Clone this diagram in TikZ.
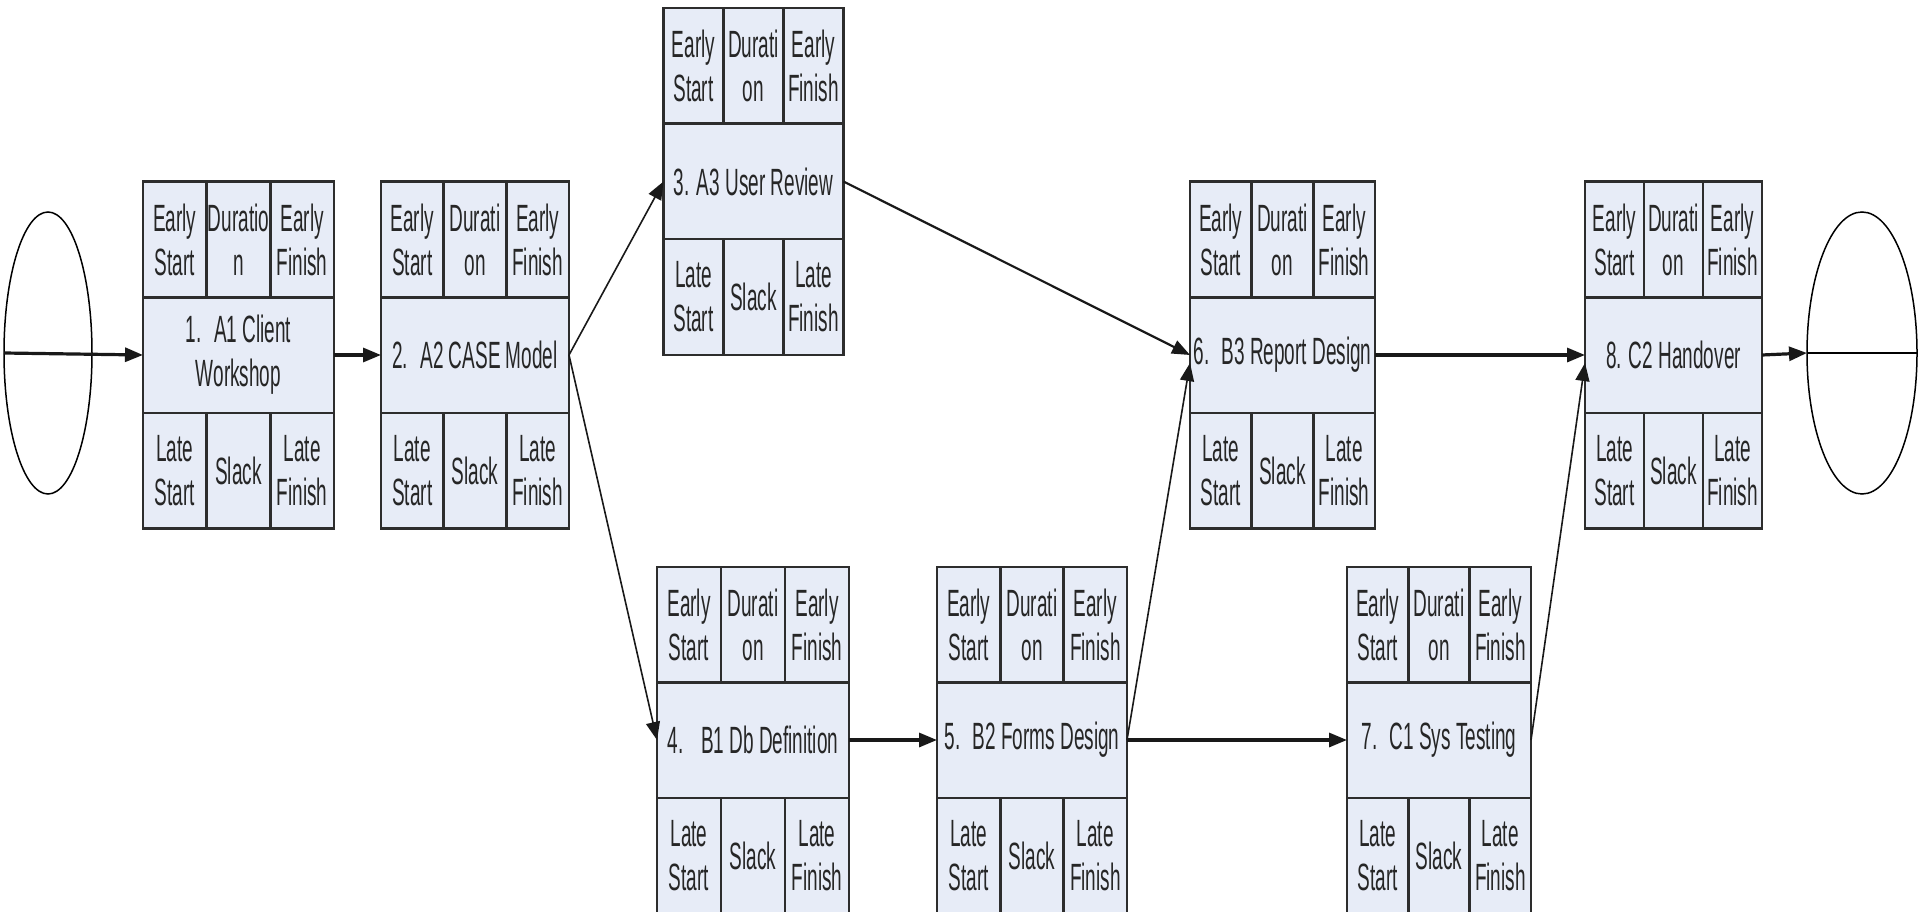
\documentclass[tikz,border=0pt]{standalone}
\usepackage{fontspec}
\usetikzlibrary{arrows.meta,positioning,shapes.geometric,calc}
\newfontfamily\cellfont[FakeStretch=0.50]{Liberation Sans}
\definecolor{cellfill}{RGB}{231,236,247}
\definecolor{cellline}{RGB}{45,45,45}
\tikzset{
  cell/.style={draw=cellline, fill=cellfill, line width=2.5pt, inner sep=0pt, outer sep=0pt,
    minimum height=115.5pt, align=center, text=black!85,
    font=\cellfont\fontsize{38}{44}\selectfont},
  titlecell/.style={cell},
  endpoint/.style={ellipse, draw, line width=1.5pt, inner sep=0pt, outer sep=0pt},
  arr/.style={-{Triangle[length=18pt,width=14pt]}, draw=black!90, line width=1.6pt},
  thickarr/.style={arr, line width=3.2pt}
}
% one activity box: name, centre, width, title, duration text
\newcommand{\actbox}[5]{%
  \node[titlecell, minimum width=#3] (#1) at #2 {#4};
  \node[cell, minimum width=#3/3, anchor=south west] (#1es) at (#1.north west) {Early\\Start};
  \node[cell, minimum width=#3/3, right=0pt of #1es] (#1du) {#5};
  \node[cell, minimum width=#3/3, right=0pt of #1du] (#1ef) {Early\\Finish};
  \node[cell, minimum width=#3/3, anchor=north west] (#1ls) at (#1.south west) {Late\\Start};
  \node[cell, minimum width=#3/3, right=0pt of #1ls] (#1sl) {Slack};
  \node[cell, minimum width=#3/3, right=0pt of #1sl] (#1lf) {Late\\Finish};
}
\begin{document}
\begin{tikzpicture}[x=1pt,y=1pt,yscale=-1,xscale=1]
    \useasboundingbox (0,0) rectangle (1920,912);

    \actbox{a1}{(238.5,355)}{191pt}{1.~ A1 Client\\Workshop}{Duratio\\n}
    \actbox{a2}{(475,355)}{188pt}{2.~ A2 CASE Model}{Durati\\on}
    \actbox{a3}{(753.5,181.5)}{180pt}{3. A3 User Review}{Durati\\on}
    \actbox{a4}{(753,740)}{192pt}{4.~~ B1 Db Definition}{Durati\\on}
    \actbox{a5}{(1032,740)}{190pt}{5.~ B2 Forms Design}{Durati\\on}
    \actbox{a6}{(1282.5,355)}{185pt}{6.~ B3 Report Design}{Durati\\on}
    \actbox{a7}{(1439,740)}{184pt}{7.~ C1 Sys Testing}{Durati\\on}
    \actbox{a8}{(1673.5,355)}{177pt}{8. C2 Handover}{Durati\\on}

    \node[endpoint, minimum width=88pt, minimum height=282pt] (start) at (48,353) {};
    \node[endpoint, minimum width=110pt, minimum height=282pt] (finish) at (1862,353) {};

    \draw[thickarr] (start.west) -- (a1.west);
    \draw[thickarr] (a1.east) -- (a2.west);
    \draw[arr] (a2.east) -- (a3.west);
    \draw[arr] (a2.east) -- (a4.west);
    \draw[arr, line width=2.2pt] (a3.east) -- (a6.west);
    \draw[thickarr] (a4.east) -- (a5.west);
    \draw[arr] (a5.east) -- ($(a6.west)+(0,8)$);
    \draw[thickarr] (a5.east) -- (a7.west);
    \draw[thickarr] (a6.east) -- (a8.west);
    \draw[arr] (a7.east) -- ($(a8.west)+(0,8)$);
    \draw[thickarr] (a8.east) -- (finish.west);
    \draw[line width=2pt] (finish.west) -- (finish.east);
\end{tikzpicture}
\end{document}
